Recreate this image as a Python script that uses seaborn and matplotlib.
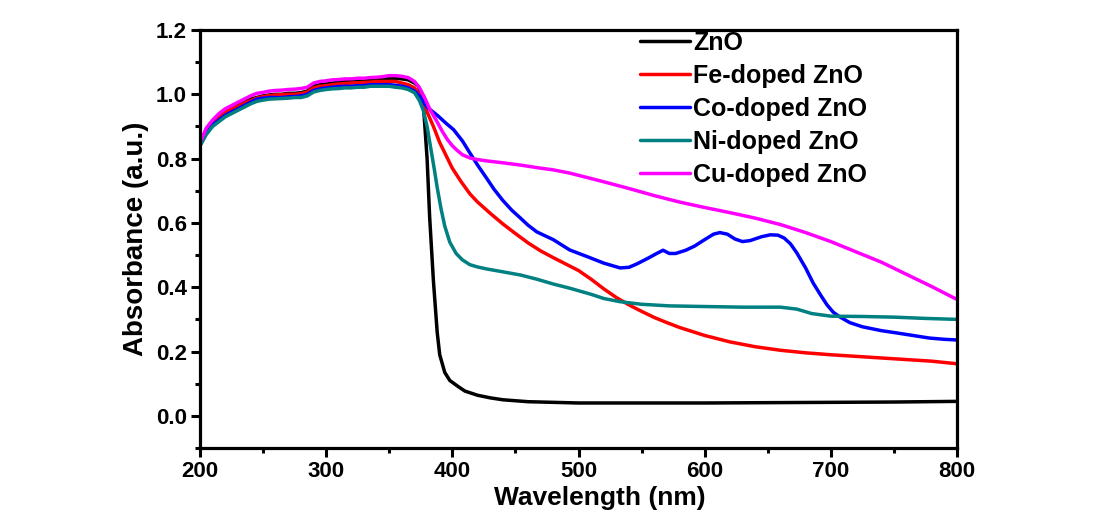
import matplotlib
matplotlib.use("Agg")
import matplotlib.pyplot as plt
from matplotlib.ticker import MultipleLocator, FormatStrFormatter
import pandas as pd
import seaborn as sns

# UV-Vis absorbance spectra of pure and transition-metal-doped ZnO
zno_wl = [200, 205, 210, 215, 220, 225, 230, 235, 240, 245, 250, 255, 260, 265, 270, 275, 280, 285, 290, 295,
          300, 305, 310, 315, 320, 325, 330, 335, 340, 345, 350, 355, 360, 365, 370, 373, 375, 377, 380, 382,
          385, 388, 390, 394, 398, 405, 410, 420, 430, 440, 450, 460, 480, 500, 550, 600, 650, 700, 750, 800]
zno_abs = [0.845, 0.89, 0.915, 0.93, 0.945, 0.955, 0.965, 0.975, 0.985, 0.99, 0.995, 0.998, 1.0, 1.0, 1.003, 1.003,
           1.005, 1.01, 1.025, 1.03, 1.032, 1.035, 1.037, 1.04, 1.04, 1.042, 1.042, 1.045, 1.045, 1.048, 1.05, 1.05,
           1.048, 1.045, 1.035, 1.025, 1.005, 0.97, 0.8, 0.62, 0.42, 0.26, 0.19, 0.135, 0.11, 0.09, 0.077, 0.064,
           0.056, 0.05, 0.047, 0.044, 0.042, 0.04, 0.04, 0.04, 0.041, 0.042, 0.043, 0.045]

fe_wl = [200, 205, 210, 215, 220, 225, 230, 235, 240, 245, 250, 255, 260, 265, 270, 275, 280, 285, 290, 295,
         300, 305, 310, 315, 320, 325, 330, 335, 340, 345, 350, 355, 360, 365, 370, 375, 378, 380, 385, 390,
         395, 400, 407, 414, 420, 430, 440, 450, 460, 470, 480, 490, 500, 510, 520, 530, 540, 550, 560, 570,
         580, 600, 620, 640, 660, 680, 700, 720, 740, 760, 780, 800]
fe_abs = [0.845, 0.89, 0.915, 0.93, 0.945, 0.955, 0.962, 0.972, 0.98, 0.988, 0.993, 0.996, 0.998, 0.999, 1.0, 1.0,
          1.002, 1.007, 1.02, 1.025, 1.027, 1.03, 1.032, 1.034, 1.035, 1.036, 1.037, 1.038, 1.04, 1.04, 1.04, 1.04,
          1.035, 1.03, 1.02, 0.99, 0.965, 0.945, 0.9, 0.85, 0.81, 0.77, 0.728, 0.69, 0.665, 0.63, 0.597, 0.567,
          0.538, 0.513, 0.492, 0.472, 0.452, 0.425, 0.395, 0.368, 0.345, 0.325, 0.306, 0.29, 0.275, 0.25, 0.23,
          0.215, 0.204, 0.196, 0.19, 0.185, 0.18, 0.175, 0.17, 0.162]

co_wl = [200, 205, 210, 215, 220, 225, 230, 235, 240, 245, 250, 255, 260, 265, 270, 275, 280, 285, 290, 295,
         300, 305, 310, 315, 320, 325, 330, 335, 340, 345, 350, 355, 360, 365, 370, 375, 380, 388, 395, 401,
         408, 414, 420, 427, 433, 440, 447, 454, 460, 467, 480, 493, 507, 520, 533, 540, 546, 555, 562, 567,
         572, 577, 585, 592, 600, 607, 612, 618, 624, 630, 636, 645, 652, 658, 663, 668, 673, 680, 686, 692,
         697, 702, 707, 715, 725, 740, 752, 765, 778, 790, 800]
co_abs = [0.84, 0.88, 0.905, 0.92, 0.935, 0.945, 0.955, 0.965, 0.975, 0.985, 0.988, 0.99, 0.99, 0.99, 0.992, 0.993,
          0.995, 1.0, 1.012, 1.017, 1.02, 1.022, 1.024, 1.025, 1.025, 1.027, 1.027, 1.03, 1.03, 1.03, 1.03, 1.028,
          1.025, 1.02, 1.01, 0.99, 0.96, 0.935, 0.91, 0.89, 0.855, 0.817, 0.78, 0.74, 0.705, 0.67, 0.64, 0.615,
          0.593, 0.572, 0.548, 0.516, 0.495, 0.475, 0.46, 0.462, 0.472, 0.49, 0.505, 0.515, 0.505, 0.505, 0.515,
          0.528, 0.548, 0.565, 0.57, 0.565, 0.55, 0.542, 0.545, 0.557, 0.563, 0.562, 0.553, 0.535, 0.507, 0.46,
          0.413, 0.375, 0.345, 0.322, 0.308, 0.29, 0.277, 0.265, 0.258, 0.25, 0.242, 0.238, 0.236]

ni_wl = [200, 205, 210, 215, 220, 225, 230, 235, 240, 245, 250, 255, 260, 265, 270, 275, 280, 285, 290, 295,
         300, 305, 310, 315, 320, 325, 330, 335, 340, 345, 350, 355, 360, 365, 370, 374, 377, 380, 383, 386,
         388, 391, 394, 398, 403, 408, 414, 420, 427, 440, 454, 467, 480, 493, 510, 520, 533, 550, 572, 600,
         630, 660, 673, 685, 700, 725, 750, 775, 800]
ni_abs = [0.84, 0.875, 0.9, 0.915, 0.93, 0.94, 0.95, 0.96, 0.97, 0.978, 0.982, 0.985, 0.986, 0.987, 0.988, 0.99,
          0.99, 0.995, 1.007, 1.012, 1.015, 1.017, 1.018, 1.02, 1.02, 1.022, 1.022, 1.025, 1.025, 1.025, 1.025,
          1.022, 1.02, 1.015, 1.005, 0.98, 0.95, 0.9, 0.83, 0.76, 0.71, 0.645, 0.59, 0.54, 0.505, 0.485, 0.47,
          0.463, 0.457, 0.448, 0.438, 0.425, 0.41, 0.397, 0.378, 0.365, 0.355, 0.347, 0.342, 0.34, 0.338, 0.338,
          0.332, 0.318, 0.31, 0.309, 0.307, 0.303, 0.3]

cu_wl = [200, 205, 210, 215, 220, 225, 230, 235, 240, 245, 250, 255, 260, 265, 270, 275, 280, 285, 290, 295,
         300, 305, 310, 315, 320, 325, 330, 335, 340, 345, 350, 355, 360, 365, 370, 374, 378, 382, 388, 392,
         396, 400, 404, 408, 414, 420, 427, 440, 454, 467, 480, 493, 500, 520, 540, 560, 580, 600, 620, 640,
         660, 680, 700, 720, 740, 760, 780, 800]
cu_abs = [0.85, 0.895, 0.92, 0.94, 0.955, 0.965, 0.975, 0.985, 0.995, 1.003, 1.006, 1.01, 1.012, 1.013, 1.015, 1.016,
          1.018, 1.022, 1.035, 1.04, 1.042, 1.045, 1.046, 1.048, 1.048, 1.05, 1.05, 1.052, 1.053, 1.055, 1.058,
          1.058, 1.056, 1.052, 1.04, 1.02, 0.99, 0.955, 0.914, 0.885, 0.86, 0.84, 0.825, 0.812, 0.802, 0.797, 0.793,
          0.787, 0.78, 0.772, 0.765, 0.755, 0.748, 0.728, 0.707, 0.685, 0.665, 0.648, 0.632, 0.615, 0.595, 0.57,
          0.542, 0.51, 0.478, 0.44, 0.402, 0.362]

labels = ["ZnO", "Fe-doped ZnO", "Co-doped ZnO", "Ni-doped ZnO", "Cu-doped ZnO"]
colors = ["#000000", "#FF0000", "#0000FF", "#008080", "#FF00FF"]
series = [(zno_wl, zno_abs), (fe_wl, fe_abs), (co_wl, co_abs), (ni_wl, ni_abs), (cu_wl, cu_abs)]

frames = [pd.DataFrame({"Wavelength": wl, "Absorbance": ab, "Sample": name})
          for name, (wl, ab) in zip(labels, series)]
df = pd.concat(frames, ignore_index=True)

sns.set_style("ticks")
plt.rcParams["font.family"] = ["Liberation Sans", "DejaVu Sans"]
plt.rcParams["font.weight"] = "bold"
plt.rcParams["text.color"] = "black"
plt.rcParams["axes.labelcolor"] = "black"
plt.rcParams["xtick.color"] = "black"
plt.rcParams["ytick.color"] = "black"
plt.rcParams["axes.edgecolor"] = "black"

fig = plt.figure(figsize=(10.97, 5.11), dpi=100)
ax = fig.add_axes([200 / 1097, 1 - 448 / 511, 757 / 1097, 418 / 511])

sns.lineplot(data=df, x="Wavelength", y="Absorbance", hue="Sample", hue_order=labels,
             palette=colors, estimator=None, sort=True, linewidth=2.5, ax=ax)

ax.set_xlim(200, 800)
ax.set_ylim(-0.1, 1.2)
ax.xaxis.set_major_locator(MultipleLocator(100))
ax.xaxis.set_minor_locator(MultipleLocator(50))
ax.yaxis.set_major_locator(MultipleLocator(0.2))
ax.yaxis.set_minor_locator(MultipleLocator(0.1))
ax.yaxis.set_major_formatter(FormatStrFormatter("%.1f"))

for sp in ax.spines.values():
    sp.set_linewidth(2.3)
    sp.set_visible(True)
ax.tick_params(which="major", direction="out", length=6.5, width=2.2, labelsize=16, pad=3)
ax.tick_params(which="minor", direction="out", length=3.5, width=2.2)
for lbl in ax.get_xticklabels() + ax.get_yticklabels():
    lbl.set_fontweight("bold")

ax.set_xlabel("Wavelength (nm)", fontsize=19, fontweight="bold")
ax.set_ylabel("Absorbance (a.u.)", fontsize=20, fontweight="bold")
ax.xaxis.set_label_coords(0.528, -0.09)
ax.yaxis.set_label_coords(-0.068, 0.5)

leg = ax.legend(loc="upper left", bbox_to_anchor=(640 / 1097, 1 - 31 / 511),
                bbox_transform=fig.transFigure, frameon=False, fontsize=18,
                handlelength=2.0, handletextpad=0.12, labelspacing=0.36,
                borderpad=0, borderaxespad=0)
for line in leg.get_lines():
    line.set_linewidth(2.5)
for t in leg.get_texts():
    t.set_fontweight("bold")

fig.savefig("out.png", dpi=100, facecolor="white")
